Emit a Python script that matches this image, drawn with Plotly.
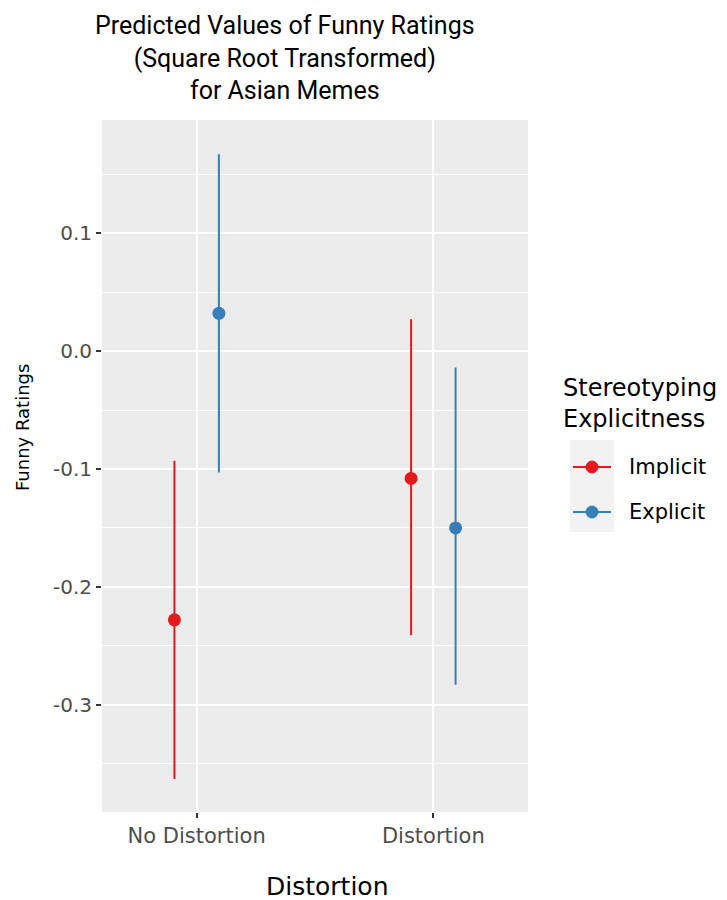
import plotly.graph_objects as go

# Predicted values (square-root transformed funny ratings) with 95% CIs
distortion = ["No Distortion", "Distortion"]
groups = ["Implicit", "Explicit"]
colors = {"Implicit": "#E41A1C", "Explicit": "#377EB8"}
estimate = {"Implicit": [-0.228, -0.108], "Explicit": [0.032, -0.150]}
ci_low = {"Implicit": [-0.363, -0.241], "Explicit": [-0.103, -0.283]}
ci_high = {"Implicit": [-0.093, 0.027], "Explicit": [0.167, -0.014]}
y_ticks = [-0.3, -0.2, -0.1, 0.0, 0.1]
y_tick_text = ["-0.3", "-0.2", "-0.1", "0.0", "0.1"]

W, H = 727, 900
L, R, T, B = 102, 528, 120, 812  # panel edges in pixels
dodge = {"Implicit": -0.094, "Explicit": 0.094}

fig = go.Figure()
for g in groups:
    xs = [i + 1 + dodge[g] for i in range(len(distortion))]
    fig.add_trace(go.Scatter(
        x=xs, y=estimate[g], mode="markers", name=g,
        marker=dict(color=colors[g], size=13, symbol="circle"),
        error_y=dict(type="data", symmetric=False,
                     array=[h - e for h, e in zip(ci_high[g], estimate[g])],
                     arrayminus=[e - lo for e, lo in zip(estimate[g], ci_low[g])],
                     color=colors[g], thickness=2, width=0),
        showlegend=False,
    ))

sans = "DejaVu Sans, sans-serif"
fig.update_layout(
    width=W, height=H,
    margin=dict(l=L, r=W - R, t=T, b=H - B),
    paper_bgcolor="white", plot_bgcolor="#EBEBEB",
    showlegend=False,
    font=dict(family=sans, color="#4D4D4D"),
)
fig.update_xaxes(
    range=[0.6, 2.4], tickvals=[1, 2], ticktext=distortion,
    showgrid=True, gridcolor="white", gridwidth=2, zeroline=False,
    ticks="outside", ticklen=5, tickcolor="#333333", tickwidth=1.5,
    tickfont=dict(size=21, color="#4D4D4D", family=sans),
    showline=False,
)
fig.update_yaxes(
    range=[-0.391, 0.196], tickvals=y_ticks, ticktext=y_tick_text,
    showgrid=True, gridcolor="white", gridwidth=2, zeroline=False,
    ticks="outside", ticklen=5, tickcolor="#333333", tickwidth=1.5,
    tickfont=dict(size=20, color="#4D4D4D", family=sans),
    minor=dict(tickvals=[-0.35, -0.25, -0.15, -0.05, 0.05, 0.15],
               showgrid=True, gridcolor="white", gridwidth=1, ticks=""),
    showline=False,
)


def px(x):
    return (x - L) / (R - L)


def py(y):
    return (B - y) / (B - T)


annotations = [
    dict(text="Predicted Values of Funny Ratings<br>(Square Root Transformed)<br>for Asian Memes",
         x=px(285), y=py(58), xref="paper", yref="paper", showarrow=False,
         xanchor="center", yanchor="middle", align="center",
         font=dict(family="Roboto, sans-serif", size=25, color="black")),
    dict(text="Funny Ratings", x=px(22), y=py(428), xref="paper", yref="paper",
         showarrow=False, textangle=-90, xanchor="center", yanchor="middle",
         font=dict(family=sans, size=18, color="black")),
    dict(text="Distortion", x=px(327), y=py(886), xref="paper", yref="paper",
         showarrow=False, xanchor="center", yanchor="middle",
         font=dict(family=sans, size=25, color="black")),
    dict(text="Stereotyping<br>Explicitness", x=px(561), y=py(403), xref="paper", yref="paper",
         showarrow=False, xanchor="left", yanchor="middle", align="left",
         font=dict(family=sans, size=24, color="black")),
]

shapes = [dict(type="rect", xref="paper", yref="paper", x0=px(570), x1=px(614),
               y0=py(440), y1=py(532), fillcolor="#F2F2F2", line=dict(width=0), layer="above")]
for g, yk in zip(groups, [467, 512]):
    shapes.append(dict(type="line", xref="paper", yref="paper", x0=px(573), x1=px(611),
                       y0=py(yk), y1=py(yk), line=dict(color=colors[g], width=2), layer="above"))
    shapes.append(dict(type="circle", xref="paper", yref="paper", x0=px(586), x1=px(598),
                       y0=py(yk + 6), y1=py(yk - 6), fillcolor=colors[g],
                       line=dict(color=colors[g], width=1), layer="above"))
    annotations.append(dict(text=g, x=px(627), y=py(yk), xref="paper", yref="paper",
                            showarrow=False, xanchor="left", yanchor="middle",
                            font=dict(family=sans, size=21, color="black")))

fig.update_layout(annotations=annotations, shapes=shapes)
fig.write_html("out.html")
